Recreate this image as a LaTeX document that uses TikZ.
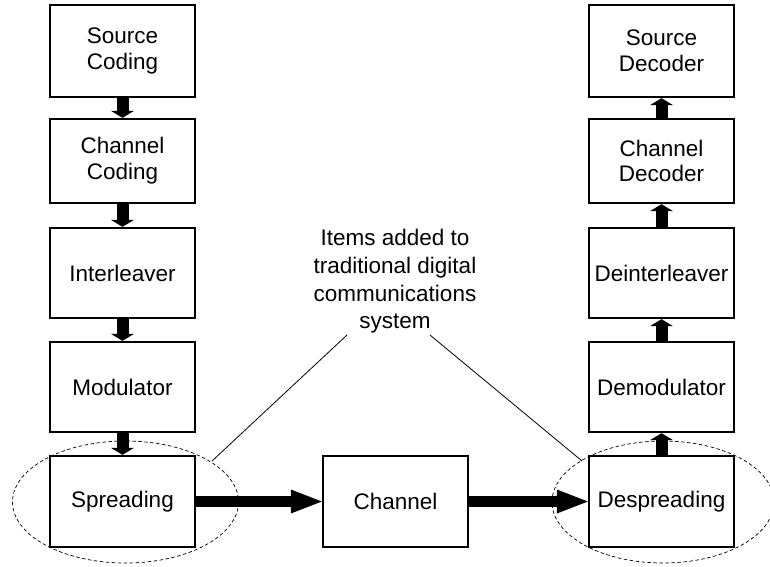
\documentclass[tikz,border=0pt]{standalone}
\usepackage{fontspec}
\setmainfont{Liberation Sans}
\usetikzlibrary{arrows.meta}
\begin{document}
\begin{tikzpicture}[x=1pt,y=-1pt,
  blk/.style={draw, line width=2.3pt, minimum width=145pt, inner sep=0pt, align=center,
    font=\fontsize{22.5pt}{25.8pt}\selectfont},
  varrow/.style={line width=12pt, -{Triangle[length=7pt,width=23pt,line width=0pt]}},
  harrow/.style={line width=11pt, -{Triangle[length=31pt,width=24pt,line width=0pt]}},
  group/.style={draw, line width=0.7pt, dash pattern=on 3.5pt off 2.5pt},
  callout/.style={line width=0.8pt}]
\useasboundingbox (0,0) rectangle (770,566);
\clip (0,0) rectangle (770,566);
% left column
\node[blk, minimum height=92pt] (src) at (122.5,51) {Source\\Coding};
\node[blk, minimum height=84pt] (chc) at (122.5,161) {Channel\\Coding};
\node[blk, minimum height=90pt] (intl) at (122.5,273) {Interleaver};
\node[blk, minimum height=90pt] (mod) at (122.5,387) {Modulator};
\node[blk, minimum height=91pt] (spr) at (122.5,501.5) {Spreading};
% channel
\node[blk, minimum height=91pt] (chan) at (395.5,501.5) {Channel};
% right column
\node[blk, minimum height=92pt] (srcd) at (661.5,51) {Source\\Decoder};
\node[blk, minimum height=84pt] (chd) at (661.5,161) {Channel\\Decoder};
\node[blk, minimum height=90pt] (dint) at (661.5,273) {Deinterleaver};
\node[blk, minimum height=90pt] (demod) at (661.5,387) {Demodulator};
\node[blk, minimum height=91pt] (desp) at (661.5,501.5) {Despreading};
% arrows
\draw[varrow] (src.south) -- (chc.north);
\draw[varrow] (chc.south) -- (intl.north);
\draw[varrow] (intl.south) -- (mod.north);
\draw[varrow] (mod.south) -- (spr.north);
\draw[varrow] (chd.north) -- (srcd.south);
\draw[varrow] (dint.north) -- (chd.south);
\draw[varrow] (demod.north) -- (dint.south);
\draw[varrow] (desp.north) -- (demod.south);
\draw[harrow] (spr.east) -- (chan.west);
\draw[harrow] (chan.east) -- (desp.west);
% groups
\draw[group] (125.5,502) ellipse [x radius=113, y radius=61];
\draw[group] (663,502) ellipse [x radius=111, y radius=61];
% callout
\node[align=center, font=\fontsize{22.5pt}{27.7pt}\selectfont] (note) at (395,281.5)
  {Items added to\\traditional digital\\communications\\system};
\coordinate (la) at (347,335);
\coordinate (lb) at (212,461);
\coordinate (ra) at (430,335);
\coordinate (rb) at (582,461);
\draw[callout] (la) -- (lb);
\draw[callout] (ra) -- (rb);
\end{tikzpicture}
\end{document}
